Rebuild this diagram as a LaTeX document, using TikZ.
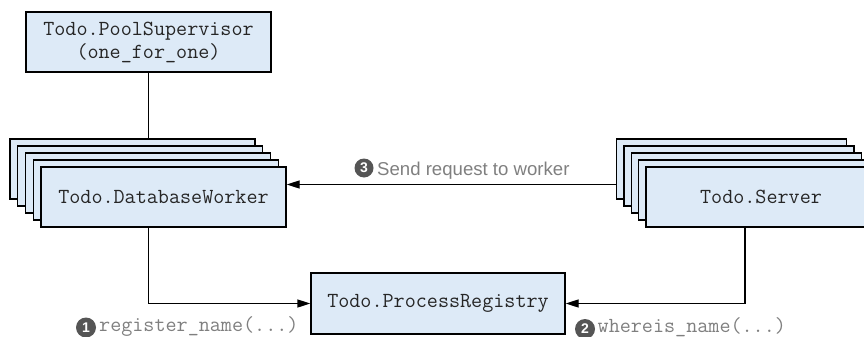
\documentclass[tikz,border=0pt]{standalone}
\usepackage{fontspec}
\setmainfont{Liberation Sans}
\setsansfont{Liberation Sans}
\usetikzlibrary{arrows.meta,calc}
\definecolor{boxfill}{HTML}{DDEAF7}
\definecolor{labelgray}{HTML}{7F7F7F}
\definecolor{badgegray}{HTML}{555555}
\newcommand{\codefont}{\ttfamily\fontsize{21.5}{23}\selectfont}
\tikzset{
  proc/.style={draw=black, line width=1.3pt, fill=boxfill, rectangle, inner sep=0pt,
    font=\codefont, text=black!85, align=center},
  dbsize/.style={minimum width=245pt, minimum height=60pt},
  srvsize/.style={minimum width=230pt, minimum height=60pt},
  link/.style={line width=1.3pt, draw=black},
  tip/.style={-{Triangle[length=13pt,width=8pt]}},
  badge/.style={circle, fill=badgegray, text=white, inner sep=0pt, minimum size=19pt,
    font=\sffamily\bfseries\fontsize{14}{14}\selectfont},
  note/.style={inner sep=0pt, text=labelgray, anchor=base west},
  sansnote/.style={note, font=\sffamily\fontsize{18.6}{22}\selectfont},
  mononote/.style={note, font=\codefont},
}
\begin{document}
\begin{tikzpicture}[x=1pt,y=-1pt]
\clip (0,0) rectangle (864,337);

% supervisor
\node[proc, minimum width=245pt, minimum height=60pt] (sup) at (148.5,42)
  {Todo.PoolSupervisor\\(one\_for\_one)};

% stack of database workers
\foreach \k in {4,3,2,1}
  \node[proc, dbsize] (dbw\k) at ({163.5-7.75*\k},{197-7*\k}) {};
\node[proc, dbsize] (dbw) at (163.5,197) {Todo.DatabaseWorker};

% stack of servers
\foreach \k in {4,3,2,1}
  \node[proc, srvsize] (srv\k) at ({761-7.3*\k},{197-7*\k}) {};
\node[proc, srvsize] (srv) at (761,197) {Todo.Server};

% registry
\node[proc, minimum width=254pt, minimum height=61pt] (reg) at (438,303.5)
  {Todo.ProcessRegistry};

% connectors
\draw[link] (sup.south) -- (sup.south |- dbw4.north);
\draw[link,tip] (sup.south |- dbw.south) -- (sup.south |- reg.west) -- (reg.west);
\coordinate (srvdrop) at ([xshift=-16pt]srv.south);
\draw[link,tip] (srvdrop) -- (srvdrop |- reg.east) -- (reg.east);
\coordinate (reqtip) at ([yshift=12.5pt]dbw.east);
\draw[link,tip] (reqtip -| srv4.west) -- (reqtip);

% step labels
\node[badge] (b3) at (364,168) {3};
\node[sansnote] (l3) at (377,175) {Send request to worker};
\node[badge, minimum size=20pt] (b1) at (86,327.5) {1};
\node[mononote] (l1) at (99,331.5) {register\_name(...)};
\node[badge, minimum size=20pt] (b2) at (585,329) {2};
\node[mononote] (l2) at (597.5,332.5) {whereis\_name(...)};
\end{tikzpicture}
\end{document}
